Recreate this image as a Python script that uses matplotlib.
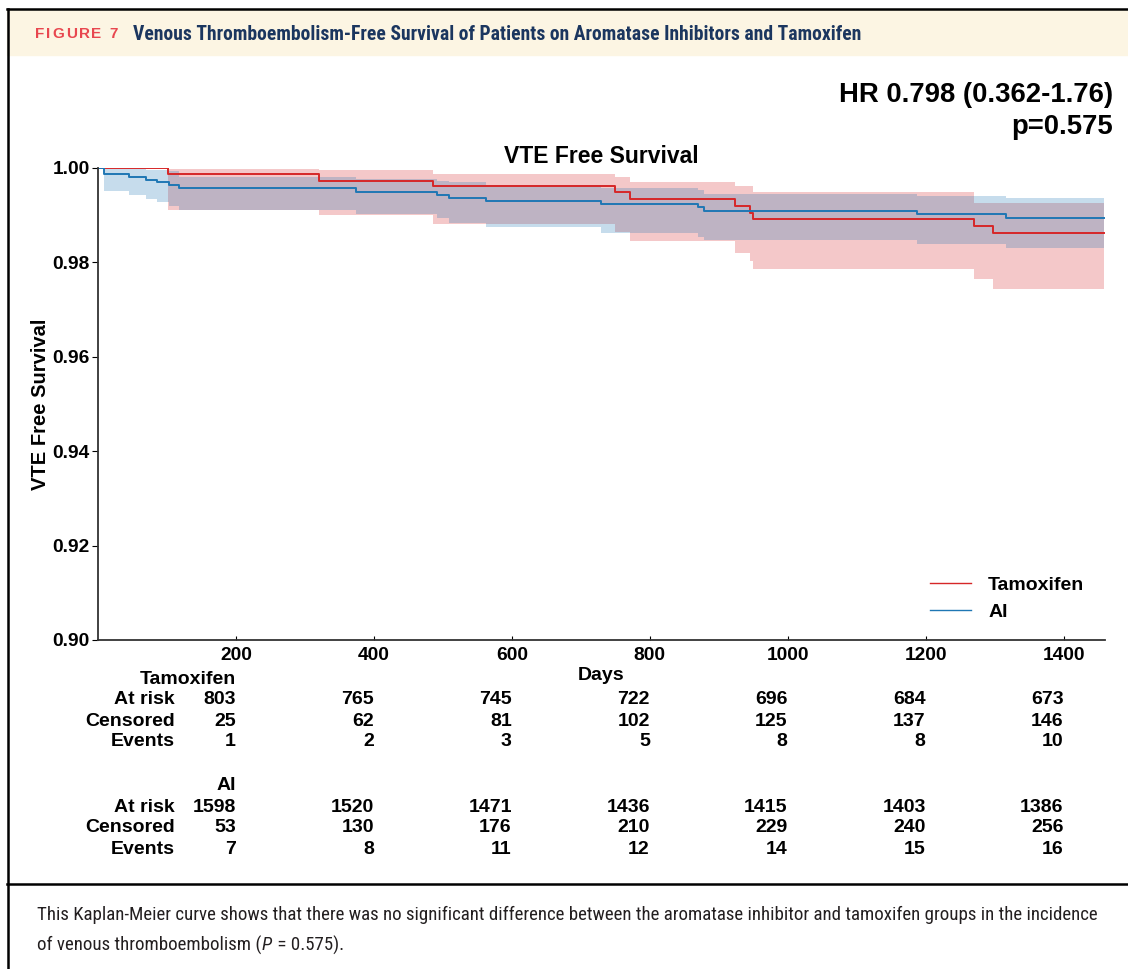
import matplotlib
matplotlib.use('Agg')
import matplotlib.pyplot as plt
import matplotlib.transforms as mtransforms
from matplotlib import font_manager
from matplotlib.lines import Line2D
from matplotlib.patches import Rectangle

W, H = 1128, 969

# Kaplan-Meier steps: start day of each step and its value
tam_days  = [0, 101, 320, 486, 750, 771, 923, 945, 949, 1270, 1297, 1458]
tam_surv  = [1.0, 0.99872, 0.99730, 0.99610, 0.99483, 0.99340, 0.99198,
             0.99057, 0.98915, 0.98772, 0.98632, 0.98632]
tam_upper = [1.0, 0.99979, 0.99968, 0.99872, 0.99802, 0.99709, 0.99623,
             0.99623, 0.99483, 0.99255, 0.99255, 0.99255]
tam_lower = [1.0, 0.99106, 0.99000, 0.98809, 0.98638, 0.98453, 0.98206,
             0.98028, 0.97851, 0.97653, 0.97440, 0.97440]

ai_days  = [0, 9, 45, 69, 85, 103, 117, 374, 491, 509, 562, 729, 870, 878,
            1188, 1317, 1458]
ai_surv  = [1.0, 0.99872, 0.99815, 0.99745, 0.99696, 0.99638, 0.99574,
            0.99496, 0.99426, 0.99368, 0.99304, 0.99234, 0.99164, 0.99091,
            0.99021, 0.98951, 0.98951]
ai_upper = [1.0, 0.99989, 0.99979, 0.99968, 0.99957, 0.99936, 0.99809,
            0.99766, 0.99723, 0.99702, 0.99638, 0.99574, 0.99532, 0.99447,
            0.99404, 0.99355, 0.99355]
ai_lower = [1.0, 0.99517, 0.99426, 0.99340, 0.99270, 0.99191, 0.99106,
            0.99021, 0.98936, 0.98845, 0.98760, 0.98617, 0.98532, 0.98468,
            0.98383, 0.98298, 0.98298]

# numbers at risk table
risk_days = [200, 400, 600, 800, 1000, 1200, 1400]
tam_at_risk = [803, 765, 745, 722, 696, 684, 673]
tam_censored = [25, 62, 81, 102, 125, 137, 146]
tam_events = [1, 2, 3, 5, 8, 8, 10]
ai_at_risk = [1598, 1520, 1471, 1436, 1415, 1403, 1386]
ai_censored = [53, 130, 176, 210, 229, 240, 256]
ai_events = [7, 8, 11, 12, 14, 15, 16]

y_ticks = [0.90, 0.92, 0.94, 0.96, 0.98, 1.00]

header_label = 'FIGURE 7'
header_title = ('Venous Thromboembolism-Free Survival of Patients on '
                'Aromatase Inhibitors and Tamoxifen')
caption_1 = ('This Kaplan-Meier curve shows that there was no significant difference '
             'between the aromatase inhibitor and tamoxifen groups in the incidence')

names = {f.name for f in font_manager.fontManager.ttflist}
if 'Liberation Sans Narrow' in names:
    narrow = 'Liberation Sans Narrow'
elif 'Roboto Condensed' in names:
    narrow = 'Roboto Condensed'
else:
    narrow = 'Roboto'

plt.rcParams['font.family'] = ['Liberation Sans', 'DejaVu Sans']
plt.rcParams['font.weight'] = 'bold'

fig = plt.figure(figsize=(W / 100, H / 100), dpi=100)
renderer = fig.canvas.get_renderer()


def fx(px):
    return px / W


def fy(px):
    return 1 - px / H


def fit_width(t, target):
    # scale the font so the text spans the target width in pixels
    w = t.get_window_extent(renderer).width
    t.set_fontsize(t.get_fontsize() * target / w)
    return t


# frame, header band and caption separator
fig.patches.append(Rectangle((fx(7), fy(55)), 1 - fx(7), 46 / H,
                             transform=fig.transFigure, color='#FCF5E3', zorder=0))
for xs, ys in [([fx(7.5), fx(7.5)], [0, fy(9)]),
               ([fx(7), 1], [fy(9), fy(9)]),
               ([fx(7), 1], [fy(884), fy(884)])]:
    fig.lines.append(Line2D(xs, ys, transform=fig.transFigure, color='black', lw=1.8))

# "FIGURE 7" with letter spacing
x = 35
for ch in header_label:
    t = fig.text(fx(x), fy(34), ch, color='#E8474F', fontsize=11,
                 fontweight='bold', va='center', ha='left')
    w = t.get_window_extent(renderer).width if ch != ' ' else 4
    x += w + 1.8

t = fig.text(fx(133), fy(34), header_title, color='#1B365F', fontsize=12,
             fontweight='bold', family=narrow, va='center', ha='left')
fit_width(t, 727)

# main axes
ax = fig.add_axes([fx(98), fy(640), (1105 - 98) / W, (640 - 168) / H])
ax.fill_between(tam_days, tam_lower, tam_upper, step='post', color='tab:red',
                alpha=0.25, lw=0)
ax.fill_between(ai_days, ai_lower, ai_upper, step='post', color='tab:blue',
                alpha=0.25, lw=0)
ax.step(tam_days, tam_surv, where='post', color='tab:red', lw=1.4, label='Tamoxifen')
ax.step(ai_days, ai_surv, where='post', color='tab:blue', lw=1.4, label='AI')

ax.set_xlim(0, 1460)
ax.set_ylim(0.90, 1.0)
ax.set_xticks(risk_days)
ax.set_yticks(y_ticks)
ax.set_yticklabels([f'{v:.2f}' for v in y_ticks])
ax.tick_params(axis='x', direction='in', length=3, pad=5, labelsize=13.8)
ax.tick_params(axis='y', direction='out', length=4, pad=2, labelsize=13.8)
for s in ['top', 'right']:
    ax.spines[s].set_visible(False)
for s in ['left', 'bottom']:
    ax.spines[s].set_linewidth(1.3)
    ax.spines[s].set_color('#333333')

ax.set_title('VTE Free Survival', fontsize=16.5, fontweight='bold', pad=3)
ax.set_ylabel('VTE Free Survival', fontsize=14.5, fontweight='bold')
ax.yaxis.set_label_coords(-0.048, 0.5)

leg = ax.legend(loc='lower left', bbox_to_anchor=(0.826, 0.04), frameon=False,
                fontsize=14, handlelength=2.1, handletextpad=0.9,
                labelspacing=0.5, borderpad=0, borderaxespad=0)
for line in leg.get_lines():
    line.set_linewidth(1.0)

fig.text(fx(601), fy(675), 'Days', fontsize=14, fontweight='bold',
         ha='center', va='center')

# HR annotation
fig.text(fx(1113), fy(95), 'HR 0.798 (0.362-1.76)', fontsize=19.8,
         fontweight='bold', ha='right', va='center')
fig.text(fx(1113), fy(127), 'p=0.575', fontsize=19.8,
         fontweight='bold', ha='right', va='center')

# risk table
trans = mtransforms.blended_transform_factory(ax.transData, fig.transFigure)
groups = [('Tamoxifen', [679, 700, 721, 742], tam_at_risk, tam_censored, tam_events),
          ('AI', [786, 807, 828, 849], ai_at_risk, ai_censored, ai_events)]
for name, rows, at_risk, censored, events in groups:
    fig.text(risk_days[0], fy(rows[0]), name, transform=trans, fontsize=14,
             fontweight='bold', ha='right', va='center')
    for label, vals, ry in zip(['At risk', 'Censored', 'Events'],
                               [at_risk, censored, events], rows[1:]):
        fig.text(fx(175), fy(ry), label, fontsize=14, fontweight='bold',
                 ha='right', va='center')
        for d, v in zip(risk_days, vals):
            fig.text(d, fy(ry), str(v), transform=trans, fontsize=14,
                     fontweight='bold', ha='right', va='center')

# caption
t = fig.text(fx(37), fy(915), caption_1, color='#231F20', fontsize=11,
             fontweight='normal', family=narrow, ha='left', va='center')
fit_width(t, 1058)
cap_size = t.get_fontsize()
x = 37
for piece, style in [('of venous thromboembolism (', 'normal'), ('P', 'italic'),
                     (' = 0.575).', 'normal')]:
    t = fig.text(fx(x), fy(945), piece, color='#231F20', fontsize=cap_size,
                 fontweight='normal', style=style, family=narrow,
                 ha='left', va='center')
    x += t.get_window_extent(renderer).width + (1.5 if style == 'italic' else 0)

fig.savefig('out.png', dpi=100)
